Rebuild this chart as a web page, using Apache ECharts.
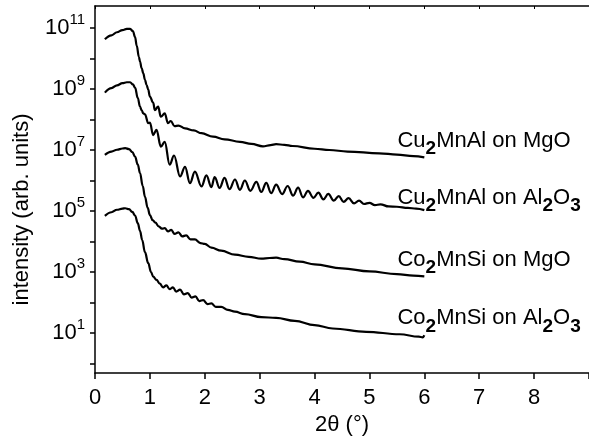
<!DOCTYPE html>
<html>
<head>
<meta charset="utf-8">
<script src="https://cdn.jsdelivr.net/npm/echarts@6/dist/echarts.min.js"></script>
<style>html,body{margin:0;padding:0;background:#fff}#c{width:589px;height:440px}</style>
</head>
<body>
<div id="c"></div>
<script>
// 2θ (°) and intensity (arb. units)
const cuMgO_x = [0.18,0.30,0.40,0.50,0.58,0.64,0.69,0.73,0.76,0.80,0.82,0.85,0.88,0.91,0.94,0.97,1.00,1.06,1.09,1.15,1.20,1.27,1.33,1.38,1.45,1.52,1.64,1.80,1.94,2.15,2.36,2.64,2.85,3.06,3.20,3.30,3.45,3.60,4.00,4.27,4.60,5.18,5.50,5.80,6.00];
const cuMgO_y = [4.27e10,5.75e10,7.24e10,8.51e10,9.33e10,9.33e10,7.94e10,5.01e10,2.63e10,1.12e10,7.94e9,4.79e9,3.24e9,2.0e9,1.35e9,9.55e8,5.62e8,3.55e8,2.04e8,2.63e8,1.23e8,1.58e8,7.59e7,8.91e7,6.03e7,6.31e7,5.13e7,4.37e7,3.55e7,2.75e7,2.24e7,1.86e7,1.58e7,1.32e7,1.45e7,1.55e7,1.48e7,1.35e7,1.10e7,1.0e7,8.91e6,7.76e6,7.08e6,6.31e6,5.75e6];

const cuAl_x = [0.18,0.30,0.40,0.50,0.58,0.64,0.69,0.73,0.78,0.82,0.85,0.88,0.91,0.97,1.00,1.06,1.12,1.20,1.27,1.36,1.44,1.55,1.64,1.73,1.82,1.94,2.03,2.12,2.18,2.27,2.36,2.45,2.55,2.64,2.73,2.83,2.94,3.03,3.12,3.21,3.30,3.41,3.51,3.61,3.70,3.79,3.88,3.98,4.07,4.16,4.25,4.35,4.44,4.53,4.62,4.72,4.81,4.90,5.00,5.10,5.20,5.35,5.50,5.70,5.85,6.00];
const cuAl_y = [7.59e8,1.07e9,1.32e9,1.55e9,1.66e9,1.66e9,1.41e9,1.12e9,5.01e8,2.63e8,2.0e8,1.58e8,1.48e8,7.59e7,7.94e7,3.09e7,4.57e7,1.29e7,1.86e7,3.3e6,6.6e6,1.36e6,2.8e6,8.2e5,1.95e6,6.4e5,1.48e6,6.1e5,1.3e6,5.7e5,1.22e6,5.2e5,1.08e6,4.95e5,1.0e6,4.6e5,9.0e5,4.2e5,8.4e5,3.85e5,7.3e5,3.6e5,6.6e5,3.2e5,5.8e5,2.8e5,4.57e5,2.69e5,3.98e5,2.40e5,3.63e5,2.19e5,3.09e5,2.0e5,2.63e5,1.78e5,2.19e5,1.70e5,1.86e5,1.55e5,1.66e5,1.41e5,1.38e5,1.26e5,1.20e5,1.07e5];

const coMgO_x = [0.18,0.30,0.40,0.50,0.55,0.62,0.68,0.73,0.78,0.82,0.87,0.91,0.96,1.00,1.05,1.10,1.16,1.22,1.27,1.33,1.39,1.45,1.52,1.59,1.66,1.74,1.82,1.92,2.00,2.12,2.30,2.55,2.80,3.03,3.18,3.30,3.45,3.73,4.00,4.50,5.00,5.50,5.80,6.00];
const coMgO_y = [6.92e6,8.91e6,1.02e7,1.12e7,1.15e7,1.07e7,8.51e6,6.03e6,3.31e6,1.74e6,6.61e5,2.95e5,1.26e5,7.41e4,5.01e4,4.17e4,3.16e4,2.63e4,2.75e4,2.14e4,2.40e4,1.78e4,2.0e4,1.48e4,1.58e4,1.17e4,1.17e4,8.91e3,8.32e3,6.31e3,5.01e3,3.72e3,3.16e3,2.75e3,2.88e3,2.95e3,2.63e3,2.19e3,1.78e3,1.32e3,1.05e3,8.51e2,7.59e2,7.24e2];

const coAl_x = [0.18,0.30,0.40,0.50,0.55,0.62,0.68,0.73,0.78,0.82,0.86,0.91,0.97,1.02,1.06,1.12,1.18,1.24,1.30,1.36,1.42,1.48,1.55,1.62,1.69,1.76,1.83,1.90,1.97,2.05,2.12,2.20,2.30,2.42,2.55,2.73,3.03,3.30,3.64,4.00,4.33,4.94,5.55,5.90,5.97,6.00];
const coAl_y = [6.92e4,9.12e4,1.10e5,1.20e5,1.23e5,1.15e5,9.33e4,7.08e4,3.98e4,2.24e4,1.12e4,4.47e3,1.95e3,1.0e3,7.08e2,5.50e2,4.17e2,3.16e2,3.63e2,2.75e2,3.16e2,2.29e2,2.63e2,1.86e2,2.04e2,1.45e2,1.58e2,1.12e2,1.20e2,89.1,93.3,72.4,72.4,57.5,50.1,41.7,33.1,31.6,25.1,18.2,14.1,11.0,9.12,7.59,7.24,8.51];

const xTickLabels = ['0','1','2','3','4','5','6','7','8'];
const yTickValues = [1,10,100,1e3,1e4,1e5,1e6,1e7,1e8,1e9,1e10,1e11];
const yLabelValues = [10,1e3,1e5,1e7,1e9,1e11];
const seriesNames = ['Cu{s|2}MnAl on MgO','Cu{s|2}MnAl on Al{s|2}O{s|3}','Co{s|2}MnSi on MgO','Co{s|2}MnSi on Al{s|2}O{s|3}'];

const FONT = 'Liberation Sans, Arial, sans-serif';
function pairs(xs, ys){ return xs.map((x,i)=>[x, ys[i]]); }

const labelRich = {
  m: {fontSize: 22, fontFamily: FONT, color: '#000'},
  s: {fontSize: 19, fontFamily: FONT, fontWeight: 'bold', color: '#000', padding: [16,0,0,0]}
};

function richWrap(t){
  const out = []; let i = 0;
  const re = /\{s\|([^}]*)\}/g; let mm;
  while ((mm = re.exec(t)) !== null){
    if (mm.index > i) out.push('{m|' + t.slice(i, mm.index) + '}');
    out.push(mm[0]); i = re.lastIndex;
  }
  if (i < t.length) out.push('{m|' + t.slice(i) + '}');
  return out.join('');
}

function makeSeries(name, xs, ys, labelText, anchor){
  return {
    name: name, type: 'line', data: pairs(xs, ys),
    showSymbol: false, smooth: 0.4, smoothMonotone: 'x',
    lineStyle: {color: '#000', width: 2.2}, itemStyle: {color: '#000'},
    silent: true, animation: false, z: 3,
    markPoint: {
      symbol: 'circle', symbolSize: 0, silent: true, animation: false,
      data: [{coord: anchor, value: 0}],
      label: {show: true, position: 'right', distance: 0,
        formatter: richWrap(labelText),
        rich: labelRich, fontSize: 22, fontFamily: FONT, color: '#000'}
    }
  };
}

const chart = echarts.init(document.getElementById('c'), null, {renderer: 'canvas'});
const series = [
  makeSeries('s1', cuMgO_x, cuMgO_y, seriesNames[0], [5.51, 2.0e7]),
  makeSeries('s2', cuAl_x, cuAl_y, seriesNames[1], [5.51, 2.69e5]),
  makeSeries('s3', coMgO_x, coMgO_y, seriesNames[2], [5.51, 2.45e3]),
  makeSeries('s4', coAl_x, coAl_y, seriesNames[3], [5.51, 30.2])
];

chart.setOption({
  animation: false,
  backgroundColor: '#fff',
  grid: {left: 95, right: 0, top: 6, bottom: 67, containLabel: false, outerBoundsMode: 'none'},
  xAxis: [{
    type: 'value', position: 'bottom', min: 0, max: 9, interval: 1,
    name: '2θ (°)', nameLocation: 'middle', nameGap: 39,
    nameTextStyle: {fontSize: 22, fontFamily: FONT, color: '#000'},
    axisLine: {show: true, onZero: false, lineStyle: {color: '#000', width: 1.5}},
    axisTick: {show: true, inside: false, length: 6, lineStyle: {color: '#000', width: 1.5}},
    axisLabel: {show: true, margin: 14, fontSize: 22, fontFamily: FONT, color: '#000',
      formatter: function(v){ const i = Math.round(v); return xTickLabels[i] !== undefined ? xTickLabels[i] : ''; }},
    splitLine: {show: false}
  }, {
    type: 'value', position: 'top', min: 0, max: 9, interval: 1,
    axisLine: {show: true, onZero: false, lineStyle: {color: '#000', width: 1.5}},
    axisTick: {show: true, inside: true, length: 3, lineStyle: {color: '#000', width: 1}},
    axisLabel: {show: false}, splitLine: {show: false}
  }],
  yAxis: {
    type: 'log', logBase: 10, min: 0.49, max: 5.25e11,
    name: 'intensity (arb. units)', nameLocation: 'middle', nameGap: 62, nameRotate: 90,
    nameTextStyle: {fontSize: 22, fontFamily: FONT, color: '#000', padding: [0, 40, 0, 0]},
    axisLine: {show: true, lineStyle: {color: '#000', width: 1.5}},
    axisTick: {show: true, inside: false, length: 5, lineStyle: {color: '#000', width: 1.5}, customValues: yTickValues},
    axisLabel: {show: true, margin: 10, customValues: yLabelValues,
      formatter: function(v){ const e = Math.round(Math.log10(v)); return '{b|10}{p|' + e + '}'; },
      rich: {
        b: {fontSize: 22, fontFamily: FONT, color: '#000'},
        p: {fontSize: 15, fontFamily: FONT, color: '#000', padding: [0, 0, 16, 0]}
      }},
    splitLine: {show: false}, minorTick: {show: false}
  },
  series: series
});
</script>
</body>
</html>
